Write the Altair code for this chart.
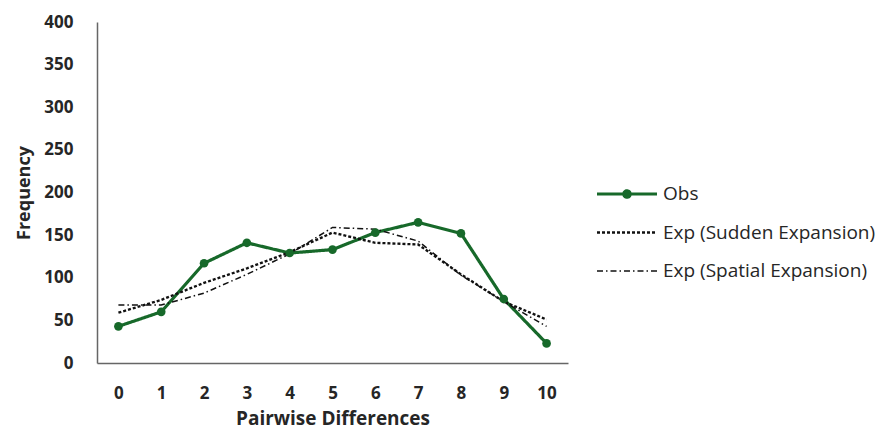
import altair as alt
import pandas as pd

x_vals = list(range(11))
obs = [43, 60, 117, 141, 129, 133, 153, 165, 152, 75, 23]
sudden = [59, 74, 94, 111, 130, 153, 141, 139, 104, 72, 51]
spatial = [68, 68, 82, 104, 128, 159, 157, 143, 103, 72, 43]

series_names = ["Obs", "Exp (Sudden Expansion)", "Exp  (Spatial Expansion)"]
series_vals = [obs, sudden, spatial]

rows = []
for name, vals in zip(series_names, series_vals):
    for xv, v in zip(x_vals, vals):
        rows.append({"x": str(xv), "xn": xv, "freq": v, "series": name})
df = pd.DataFrame(rows)

GREEN = "#17692a"
FONT = "Open Sans"
TXT = "#262626"

OBS_PATH = "M-1.5,0H1.5M0.16,0A0.16,0.16,0,1,1,-0.16,0A0.16,0.16,0,1,1,0.16,0"
LINE_PATH = "M-1.5,0H1.5"

color = alt.Color(
    "series:N",
    scale=alt.Scale(domain=series_names, range=[GREEN, "#111111", "#111111"]),
    legend=alt.Legend(
        title=None,
        orient="none",
        legendX=508,
        legendY=150,
        symbolType=alt.ExprRef(expr=f"datum.value === 'Obs' ? '{OBS_PATH}' : '{LINE_PATH}'"),
        symbolFillColor=alt.ExprRef(expr=f"datum.value === 'Obs' ? '{GREEN}' : 'transparent'"),
        symbolStrokeWidth=alt.ExprRef(expr="datum.value === 'Obs' ? 3 : 1.3"),
        symbolSize=1600,
        labelFont=FONT,
        labelFontSize=19,
        labelColor=TXT,
        labelOffset=14,
        rowPadding=7,
        labelLimit=400,
    ),
)

dash = alt.StrokeDash(
    "series:N",
    scale=alt.Scale(domain=series_names, range=[[1, 0], [3, 2], [6, 3, 1.5, 3]]),
    legend=None,
)

sw = alt.StrokeWidth(
    "series:N",
    scale=alt.Scale(domain=series_names, range=[3.2, 1.5, 1.5]),
    legend=None,
)

xenc = alt.X(
    "x:O",
    sort=[str(v) for v in x_vals],
    title="Pairwise Differences",
    scale=alt.Scale(paddingInner=1, paddingOuter=0.5),
    axis=alt.Axis(
        labelAngle=0,
        ticks=False,
        grid=False,
        labelPadding=22,
        labelFont=FONT,
        labelFontSize=17,
        labelFontWeight="bold",
        labelColor=TXT,
        titleFont=FONT,
        titleFontSize=19,
        titleFontWeight="bold",
        titleColor=TXT,
        titlePadding=8,
        domainColor="#666666",
        domainWidth=1.5,
    ),
)

yenc = alt.Y(
    "freq:Q",
    title="Frequency",
    scale=alt.Scale(domain=[0, 400], nice=False),
    axis=alt.Axis(
        values=[0, 50, 100, 150, 200, 250, 300, 350, 400],
        ticks=False,
        grid=False,
        labelPadding=24,
        labelFont=FONT,
        labelFontSize=17,
        labelFontWeight="bold",
        labelColor=TXT,
        titleFont=FONT,
        titleFontSize=18,
        titleFontWeight="bold",
        titleColor=TXT,
        titlePadding=10,
        domainColor="#666666",
        domainWidth=1.5,
    ),
)

lines = alt.Chart(df).mark_line().encode(
    x=xenc, y=yenc, color=color, strokeDash=dash, strokeWidth=sw,
    order=alt.Order("xn:Q"),
)

points = alt.Chart(df[df["series"] == "Obs"]).mark_point(
    filled=True, size=75, opacity=1, color=GREEN
).encode(x=alt.X("x:O", sort=[str(v) for v in x_vals]), y="freq:Q")

chart = (
    alt.layer(lines, points)
    .properties(
        width=471,
        height=341,
        autosize=alt.AutoSizeParams(type="none"),
        padding={"left": 89, "top": 14, "right": 312, "bottom": 69},
        view=alt.ViewBackground(strokeWidth=0, strokeOpacity=0),
    )
    .configure_view(strokeWidth=0, strokeOpacity=0)
    .configure(background="white")
)

chart.save("out.html", embed_options={"renderer": "svg", "actions": False})
